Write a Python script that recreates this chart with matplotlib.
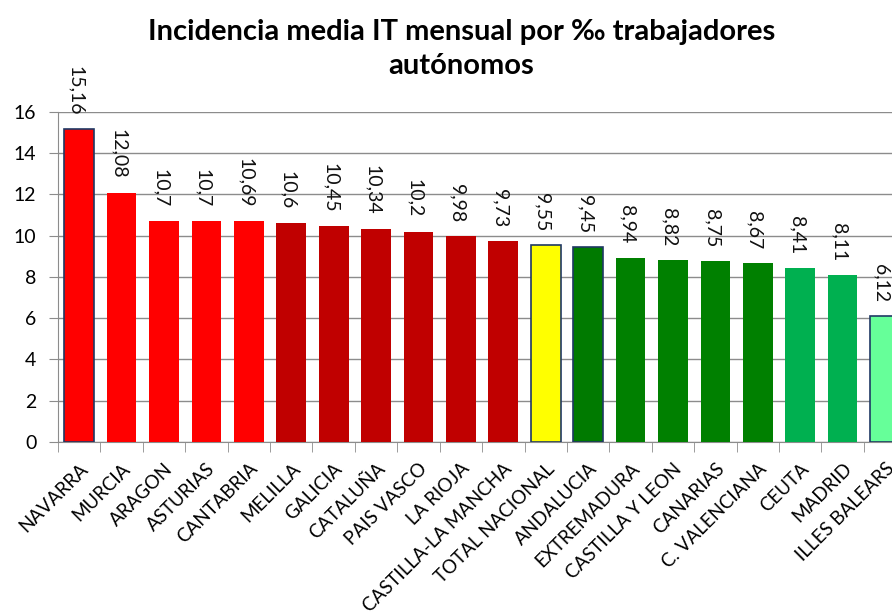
import matplotlib.pyplot as plt

# datos
regiones = ['NAVARRA', 'MURCIA', 'ARAGON', 'ASTURIAS', 'CANTABRIA', 'MELILLA',
            'GALICIA', 'CATALUÑA', 'PAIS VASCO', 'LA RIOJA', 'CASTILLA-LA MANCHA',
            'TOTAL NACIONAL', 'ANDALUCIA', 'EXTREMADURA', 'CASTILLA Y LEON',
            'CANARIAS', 'C. VALENCIANA', 'CEUTA', 'MADRID', 'ILLES BALEARS']
valores = [15.16, 12.08, 10.7, 10.7, 10.69, 10.6, 10.45, 10.34, 10.2, 9.98, 9.73,
           9.55, 9.45, 8.94, 8.82, 8.75, 8.67, 8.41, 8.11, 6.12]
etiquetas = ['15,16', '12,08', '10,7', '10,7', '10,69', '10,6', '10,45', '10,34', '10,2',
             '9,98', '9,73', '9,55', '9,45', '8,94', '8,82', '8,75', '8,67', '8,41',
             '8,11', '6,12']
colores = ['#FF0000'] * 5 + ['#C00000'] * 6 + ['#FFFF00'] + ['#007A00'] + \
          ['#008000'] * 4 + ['#00B050'] * 2 + ['#66FF99']
bordes = ['#1F3864'] + ['none'] * 10 + ['#1F3864', '#1F3864'] + ['none'] * 6 + ['#1F3864']

plt.rcParams['font.family'] = ['Lato', 'DejaVu Sans']

fig = plt.figure(figsize=(8.92, 6.12), dpi=100)
ax = fig.add_axes([0.065, 0.278, 1.016 - 0.065, 0.817 - 0.278])

x = range(len(regiones))
ax.bar(x, valores, width=0.7, color=colores, edgecolor=bordes, linewidth=1.2, zorder=3)

for i, v in enumerate(valores):
    ax.annotate(etiquetas[i], (i, v), xytext=(-2.5, 10), textcoords='offset points',
                rotation=-90, ha='center', va='bottom', fontsize=14, color='#111111')

ax.set_xlim(-0.5, len(regiones) - 0.5)
ax.set_ylim(0, 16)
ax.set_yticks(range(0, 17, 2))
ax.yaxis.grid(True, color='#8c8c8c', linewidth=1)
ax.set_axisbelow(True)

ax.set_xticks([i - 0.5 for i in range(len(regiones) + 1)], minor=True)
ax.set_xticks(list(x))
ax.set_xticklabels(regiones, rotation=45, ha='right', rotation_mode='anchor', fontsize=13.5)
ax.tick_params(axis='x', which='major', length=0, pad=13)
ax.tick_params(axis='x', which='minor', length=7, color='#8c8c8c')
ax.tick_params(axis='y', length=6.5, color='#8c8c8c', labelsize=14, pad=9)

for s in ['top', 'right']:
    ax.spines[s].set_visible(False)
for s in ['left', 'bottom']:
    ax.spines[s].set_color('#8c8c8c')

fig.text(0.517, 0.92, 'Incidencia media IT mensual por ‰ trabajadores\nautónomos',
         ha='center', va='center', fontsize=21, fontweight='bold', linespacing=1.35)

fig.savefig('out.png', dpi=100)
